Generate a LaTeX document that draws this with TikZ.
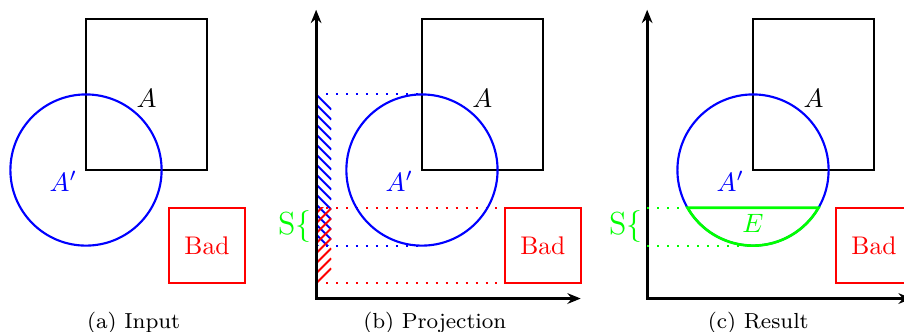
\documentclass[tikz,border=0pt]{standalone}
\usepackage{amsmath}
\usetikzlibrary{arrows.meta}

\tikzset{
  outl/.style={line width=.95pt},
  circ/.style={line width=.8pt,blue},
  badbox/.style={line width=.8pt,red},
  axes/.style={line width=1.1pt,{Stealth[length=5pt,width=4pt]}-{Stealth[length=5pt,width=4pt]}},
  proj/.style={line width=.75pt,dash pattern=on .75pt off 3pt},
  hatch/.style={line width=.75pt},
  lbl/.style={font=\fontsize{9.6}{11}\selectfont},
  sbrace/.style={green,anchor=east,inner sep=1pt,font=\fontsize{12}{14}\selectfont},
  capt/.style={anchor=base,font=\fontsize{8.2}{10}\selectfont}
}

\begin{document}
\begin{tikzpicture}
\useasboundingbox (-1.1376,-2.13) rectangle (10.82,2.249);
% (a) input
\begin{scope}
\draw[outl] (0,0) rectangle (1.6,2);
\draw[circ] (0,0) circle (1);
\draw[badbox] (1.1,-0.5) rectangle (2.1,-1.5);
\node[lbl] (aA) at (0.8,0.95) {$A$};
\node[lbl,blue] (aAp) at (-0.3,-0.15) {$A'$};
\node[lbl,red] (aBad) at (1.6,-1) {Bad};
\node[capt] (aCap) at (0.63,-2.09) {(a) Input};
\end{scope}
% (b) projection
\begin{scope}[xshift=4.444cm]
\coordinate (bO) at (-1.4,-1.7);
\coordinate (bTop) at (-1.4,2.12);
\coordinate (bRight) at (2.1,-1.7);
\begin{scope}
\clip (-1.4,-1) rectangle (-1.2,1);
\foreach \i in {0,...,16}
  \draw[hatch,blue] (-1.4,{1-\i*0.1323}) -- (-1.2,{0.8-\i*0.1323});
\end{scope}
\begin{scope}
\clip (-1.4,-1.5) rectangle (-1.2,-0.5);
\foreach \i in {0,...,8}
  \draw[hatch,red] (-1.4,{-1.5+\i*0.1323}) -- (-1.2,{-1.3+\i*0.1323});
\end{scope}
\draw[proj,blue] (-1.4,1) -- (0,1);
\draw[proj,blue] (-1.4,-1) -- (0,-1);
\draw[proj,red] (-1.4,-0.5) -- (1.1,-0.5);
\draw[proj,red] (-1.4,-1.5) -- (1.1,-1.5);
\draw[axes] (bTop) -- (bO) -- (bRight);
\draw[outl] (0,0) rectangle (1.6,2);
\draw[circ] (0,0) circle (1);
\draw[badbox] (1.1,-0.5) rectangle (2.1,-1.5);
\node[lbl] (bA) at (0.8,0.95) {$A$};
\node[lbl,blue] (bAp) at (-0.3,-0.15) {$A'$};
\node[lbl,red] (bBad) at (1.6,-1) {Bad};
\node[sbrace] (bS) at (-1.42,-0.75) {S$\{$};
\node[capt] (bCap) at (0.17,-2.09) {(b) Projection};
\end{scope}
% (c) result
\begin{scope}[xshift=8.823cm]
\coordinate (cO) at (-1.4,-1.7);
\coordinate (cTop) at (-1.4,2.12);
\coordinate (cRight) at (2.1,-1.7);
\coordinate (cL) at (210:1);
\coordinate (cB) at (0,-1);
\draw[axes] (cTop) -- (cO) -- (cRight);
\draw[outl] (0,0) rectangle (1.6,2);
\draw[circ] (0,0) circle (1);
\draw[line width=1pt,green] (cL) arc[start angle=210,end angle=330,radius=1] -- cycle;
\draw[proj,green] (-1.4,-0.5) -- (cL);
\draw[proj,green] (-1.4,-1) -- (cB);
\draw[badbox] (1.1,-0.5) rectangle (2.1,-1.5);
\node[lbl] (cA) at (0.8,0.95) {$A$};
\node[lbl,blue] (cAp) at (-0.3,-0.15) {$A'$};
\node[lbl,green] (cE) at (0,-0.7) {$E$};
\node[lbl,red] (cBad) at (1.6,-1) {Bad};
\node[sbrace] (cS) at (-1.42,-0.75) {S$\{$};
\node[capt] (cCap) at (0.07,-2.09) {(c) Result};
\end{scope}
\end{tikzpicture}
\end{document}
